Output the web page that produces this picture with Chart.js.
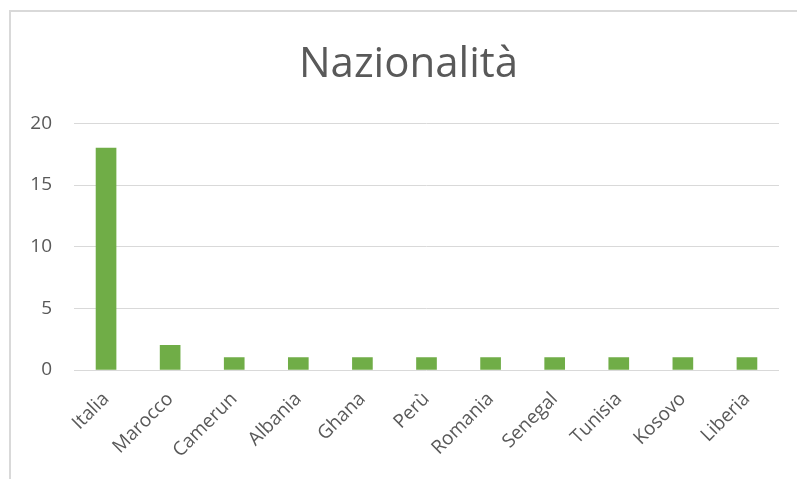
<!DOCTYPE html>
<html>
<head>
<meta charset="utf-8">
<script src="https://cdn.jsdelivr.net/npm/chart.js@4/dist/chart.umd.min.js"></script>
<style>
  html, body { margin: 0; padding: 0; background: #fff; overflow: hidden; }
  #wrap { position: relative; width: 797px; height: 479px; }
  #frame {
    position: absolute; left: 9px; top: 10px; width: 800px; height: 480px;
    border: 2px solid #d9d9d9; box-sizing: border-box;
  }
  canvas { position: absolute; left: 0; top: 0; }
</style>
</head>
<body>
<div id="wrap">
  <div id="frame"></div>
  <canvas id="chart" width="797" height="479"></canvas>
</div>
<script>
const categories = ['Italia', 'Marocco', 'Camerun', 'Albania', 'Ghana', 'Perù', 'Romania', 'Senegal', 'Tunisia', 'Kosovo', 'Liberia']
const values = [18, 2, 1, 1, 1, 1, 1, 1, 1, 1, 1]
const yTicks = [0, 5, 10, 15, 20]

const textColor = '#595959'
const gridColor = '#d9d9d9'
const barColor = '#70ad47'
const fontFamily = '"Open Sans", "Liberation Sans", sans-serif'

new Chart(document.getElementById('chart'), {
  type: 'bar',
  data: {
    labels: categories,
    datasets: [{
      label: 'Nazionalità',
      data: values,
      backgroundColor: barColor,
      borderWidth: 0,
      barThickness: 20
    }]
  },
  options: {
    responsive: false,
    animation: false,
    // padding left + empty right axis keep the title centred where the original has it
    layout: { padding: { left: 20, right: 0, top: 0, bottom: 0 } },
    plugins: {
      legend: { display: false },
      tooltip: { enabled: false },
      title: {
        display: true,
        text: 'Nazionalità',
        color: textColor,
        font: { family: fontFamily, size: 42, weight: 'normal' },
        padding: { top: 40, bottom: 33 }
      }
    },
    scales: {
      x: {
        grid: { display: false, drawTicks: false },
        border: { display: false },
        ticks: {
          color: textColor,
          font: { family: fontFamily, size: 19 },
          minRotation: 45,
          maxRotation: 45,
          padding: 18,
          autoSkip: false
        },
        afterFit: (scale) => { scale.height = 109 }
      },
      y: {
        min: 0,
        max: 20,
        afterBuildTicks: (scale) => { scale.ticks = yTicks.map((v) => ({ value: v })) },
        grid: { color: gridColor, lineWidth: 1, drawTicks: false },
        border: { display: false },
        ticks: {
          color: textColor,
          font: { family: fontFamily, size: 19 },
          padding: 22
        },
        afterFit: (scale) => { scale.width = 54 }
      },
      // empty spacer on the right
      y2: {
        position: 'right',
        display: true,
        grid: { display: false, drawTicks: false },
        border: { display: false },
        ticks: { display: false },
        afterFit: (scale) => { scale.width = 18 }
      }
    }
  }
})
</script>
</body>
</html>
